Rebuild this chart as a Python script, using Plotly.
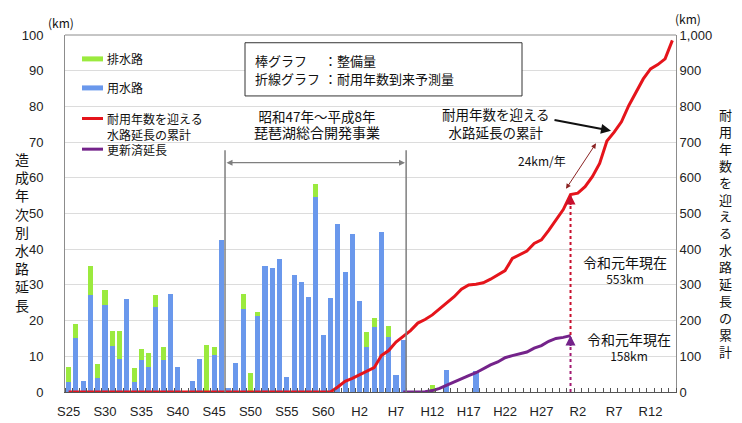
import plotly.graph_objects as go

# ---------------- data ----------------
years_bar = list(range(1950, 1997)) + [2000, 2002, 2006]
# 用水路 (blue)
supply_km = [2.8, 15.0, 3.0, 27.2, 3.9, 24.5, 12.8, 9.2, 26.0, 2.8,
             8.9, 7.0, 23.9, 8.9, 27.4, 7.0, 0.0, 3.0, 9.2, 0.0,
             10.5, 42.5, 1.0, 8.2, 23.2, 0.0, 21.2, 35.4, 34.7, 37.3,
             4.3, 32.9, 30.7, 26.6, 54.7, 16.0, 26.4, 47.2, 33.6, 44.3,
             25.5, 12.5, 18.2, 44.9, 15.3, 4.7, 14.5,
             0.0, 6.1, 5.9]
# 排水路 (green)
drain_km = [4.1, 4.1, 0.0, 8.0, 4.0, 4.0, 4.3, 8.0, 0.0, 4.0,
            3.1, 3.8, 3.3, 3.8, 0.0, 0.0, 0.0, 0.0, 0.0, 13.1,
            2.2, 0.0, 0.0, 0.0, 4.2, 5.2, 1.1, 0.0, 0.0, 0.0,
            0.0, 0.0, 0.0, 0.0, 3.6, 0.0, 0.0, 0.0, 0.0, 0.0,
            0.0, 4.2, 2.6, 0.0, 3.3, 0.0, 0.0,
            1.9, 0.0, 0.0]

years_line = list(range(1950, 2034))
# 耐用年数を迎える水路延長の累計 (red)
aged_cum_km = [0, 0, 0, 0, 0, 0, 0, 0, 0, 0,
               0, 0, 0, 0, 0, 0, 0, 0, 0, 0,
               0, 0, 0, 0, 0, 0, 0, 0, 0, 0,
               0, 0, 0, 0, 0, 0, 0,
               14, 30, 38, 48, 60, 68, 102, 116, 140, 155,
               172, 193, 203, 216, 233, 251, 267, 288, 300, 302,
               306, 316, 327, 340, 374, 384, 395, 416, 426, 453,
               481, 511, 553, 557, 575, 603, 640, 703, 728, 757,
               802, 838, 877, 905, 917, 933, 985]

years_renew = list(range(1996, 2020))
# 更新済延長 (purple)
renewed_km = [0, 0, 0, 1, 4, 10, 19, 28, 39, 46, 54, 65,
              76, 84, 96, 102, 106, 112, 123, 130, 142, 150, 153, 158]

tick_years = [1950, 1955, 1960, 1965, 1970, 1975, 1980, 1985, 1990,
              1995, 2000, 2005, 2010, 2015, 2020, 2025, 2030]
tick_labels = ["S25", "S30", "S35", "S40", "S45", "S50", "S55", "S60", "H2",
               "H7", "H12", "H17", "H22", "H27", "R2", "R7", "R12"]

current_year = 2019
current_aged = 553
current_renewed = 158

# ---------------- style ----------------
BLUE = "#6A98EC"
GREEN = "#9BEA3E"
RED = "#E5141B"
PURPLE = "#74238A"
JP = "Noto Sans CJK JP"
NUM = "Liberation Sans, Arial"

L, R, T, B = 57, 74, 27, 27
W, H = 742, 423
PW, PH = W - L - R, H - T - B


def PX(x):
    return (x - L) / PW


def PY(y):
    return (H - B - y) / PH


fig = go.Figure()
fig.add_trace(go.Bar(x=years_bar, y=supply_km, name="用水路", marker_color=BLUE,
                     marker_line_width=0))
fig.add_trace(go.Bar(x=years_bar, y=drain_km, name="排水路", marker_color=GREEN,
                     marker_line_width=0))
fig.add_trace(go.Scatter(x=years_line, y=aged_cum_km, yaxis="y2", mode="lines",
                         line=dict(color=RED, width=3), name="耐用年数を迎える水路延長の累計"))
fig.add_trace(go.Scatter(x=years_renew, y=renewed_km, yaxis="y2", mode="lines",
                         line=dict(color=PURPLE, width=3), name="更新済延長"))

fig.update_layout(
    width=W, height=H,
    margin=dict(l=L, r=R, t=T, b=B, pad=0),
    barmode="stack", bargap=0.3,
    showlegend=False,
    plot_bgcolor="white", paper_bgcolor="white",
    xaxis=dict(range=[1949.5, 2033.5], tickvals=tick_years, ticktext=tick_labels,
               ticks="", showgrid=False, zeroline=False,
               showline=True, linecolor="#555555", linewidth=1,
               tickfont=dict(family=NUM, size=13, color="#222"),
               ticklabelstandoff=7,
               minor=dict(tick0=1949.5, dtick=1, ticks="inside", ticklen=4,
                          tickcolor="#555555", showgrid=False)),
    yaxis=dict(range=[0, 100], dtick=10, showgrid=True, gridcolor="#DCDCDC",
               zeroline=False, showline=True, linecolor="#8C8C8C", ticks="",
               tickfont=dict(family=NUM, size=13, color="#222"),
               ticklabelstandoff=18),
    yaxis2=dict(range=[0, 1000], dtick=100, overlaying="y", side="right",
                showgrid=False, zeroline=False, showline=True, linecolor="#8C8C8C",
                ticks="", tickformat=",d",
                tickfont=dict(family=NUM, size=13, color="#222"),
                ticklabelstandoff=0),
)

shapes = []
# top frame line
shapes.append(dict(type="line", xref="paper", yref="paper", x0=0, x1=1, y0=1, y1=1,
                   line=dict(color="#8C8C8C", width=1)))
# project period bracket
for xv in (1971.5, 1996.4):
    shapes.append(dict(type="line", xref="x", yref="y", x0=xv, x1=xv, y0=0, y1=67.7,
                       line=dict(color="#7F7F7F", width=1.5)))
# legend box
shapes.append(dict(type="rect", xref="paper", yref="paper",
                   x0=PX(237), x1=PX(514), y0=PY(90), y1=PY(35),
                   line=dict(color="#333333", width=1), fillcolor="white"))
# manual legend swatches
for yy, col, wdt in ((51.7, GREEN, 5), (81.7, BLUE, 5), (113.3, RED, 3), (145, PURPLE, 3)):
    shapes.append(dict(type="line", xref="paper", yref="paper",
                       x0=PX(74), x1=PX(95), y0=PY(yy), y1=PY(yy),
                       line=dict(color=col, width=wdt)))
# dotted current-year arrows
shapes.append(dict(type="line", xref="x", yref="y2", x0=current_year, x1=current_year,
                   y0=0, y1=current_renewed - 4,
                   line=dict(color="#A31C72", width=2, dash="dot")))
shapes.append(dict(type="line", xref="x", yref="y2", x0=current_year, x1=current_year,
                   y0=current_renewed + 2, y1=current_aged - 4,
                   line=dict(color="#C8102E", width=2, dash="dot")))
fig.update_layout(shapes=shapes)


def txt(x, y, s, size=12, anchor="center", family=JP, color="#111", align="center"):
    fig.add_annotation(x=PX(x), y=PY(y), xref="paper", yref="paper", text=s,
                       showarrow=False, xanchor=anchor, yanchor="middle",
                       font=dict(family=family, size=size, color=color), align=align)


# legend texts
txt(97, 51.7, "排水路", 12, "left")
txt(97, 81.7, "用水路", 12, "left")
txt(97, 121.3, "耐用年数を迎える<br>水路延長の累計", 12, "left", align="left")
txt(97, 145, "更新済延長", 12, "left")

# box texts
txt(245, 53.3, "棒グラフ", 13, "left")
txt(314, 53.3, "：整備量", 13, "left")
txt(245, 71.7, "折線グラフ", 13, "left")
txt(314, 71.7, "：耐用年数到来予測量", 13, "left")

# project label
txt(309, 119.5, "<span style='font-size:13.5px'>昭和47年～平成8年</span><br>"
                "<span style='font-size:14px'>琵琶湖総合開発事業</span>", 12)

# aged annotation
txt(487.5, 117.5, "耐用年数を迎える<br>水路延長の累計", 13.5)
txt(534, 156.7, "24km/年", 12)

txt(617, 269.7, "<span style='font-size:14px'>令和元年現在</span><br>553km", 12)
txt(621, 348.8, "<span style='font-size:14px'>令和元年現在</span><br>158km", 12)

# units
txt(53, 14, "(km)", 12)
txt(680, 10, "(km)", 12)

# axis titles (vertical)
fig.add_annotation(x=PX(14), y=PY(231), xref="paper", yref="paper",
                   text="<br>".join(list("造成年次別水路延長")), showarrow=False,
                   font=dict(family=JP, size=14, color="#111"), xanchor="center", yanchor="middle")
fig.add_annotation(x=PX(717), y=PY(231.5), xref="paper", yref="paper",
                   text="<br>".join(list("耐用年数を迎える水路延長の累計")), showarrow=False,
                   font=dict(family=JP, size=13, color="#111"), xanchor="center", yanchor="middle")

# arrows
fig.add_annotation(x=PX(397), y=PY(159), xref="paper", yref="paper", text="",
                   showarrow=True, ax=-180, ay=0, arrowside="end+start",
                   arrowhead=2, arrowsize=1, arrowwidth=1.2, arrowcolor="#7F7F7F")
fig.add_annotation(x=PX(603), y=PY(126), xref="paper", yref="paper", text="",
                   showarrow=True, ax=-58, ay=-11,
                   arrowhead=2, arrowsize=1, arrowwidth=2, arrowcolor="#111")
fig.add_annotation(x=PX(588), y=PY(139), xref="paper", yref="paper", text="",
                   showarrow=True, ax=-31, ay=47, arrowside="end+start",
                   arrowhead=2, arrowsize=1, arrowwidth=1, arrowcolor="#8B2323")
fig.add_annotation(x=current_year, y=current_renewed, xref="x", yref="y2", text="",
                   showarrow=True, ax=0, ay=12, arrowhead=2, arrowsize=1, arrowwidth=2,
                   arrowcolor=PURPLE)
fig.add_annotation(x=current_year, y=current_aged, xref="x", yref="y2", text="",
                   showarrow=True, ax=0, ay=12, arrowhead=2, arrowsize=1, arrowwidth=2,
                   arrowcolor="#C8102E")

fig.write_html("out.html")
